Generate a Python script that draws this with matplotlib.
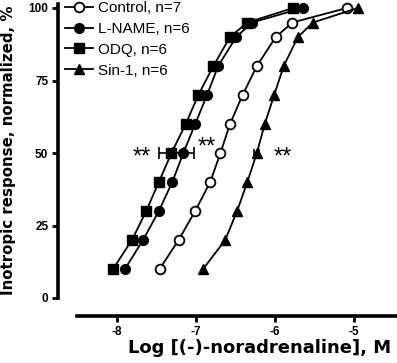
import numpy as np
import matplotlib.pyplot as plt

plt.rcParams["font.family"] = ["Liberation Sans", "DejaVu Sans"]

# response levels (% of max) at which log EC values were read
levels = [10, 20, 30, 40, 50, 60, 70, 80, 90, 95, 100]

control = [-7.46, -7.22, -7.01, -6.82, -6.69, -6.57, -6.41, -6.23, -5.99, -5.78, -5.09]
lname = [-7.90, -7.67, -7.47, -7.30, -7.16, -7.01, -6.86, -6.72, -6.49, -6.29, -5.65]
odq = [-8.05, -7.81, -7.63, -7.47, -7.31, -7.13, -6.97, -6.78, -6.57, -6.35, -5.77]
sin1 = [-6.91, -6.63, -6.48, -6.35, -6.23, -6.13, -6.01, -5.89, -5.71, -5.52, -4.95]

# SEM of the EC50 (log units)
sem50 = {"lname": 0.13, "odq": 0.16, "sin1": 0.03}

# significance marks: (x, y)
stars = [(-7.68, 48.5), (-6.86, 52), (-5.90, 48.5)]

fig = plt.figure(figsize=(3.97, 3.63), dpi=100)
ax = fig.add_axes([77 / 397, 1 - 298 / 363, 320 / 397, 290 / 363])

kw = dict(color="black", lw=1.3, markersize=7, clip_on=False, zorder=3)
ax.plot(control, levels, marker="o", mfc="white", mec="black", mew=1.3,
        label="Control, n=7", **kw)
ax.plot(lname, levels, marker="o", mfc="black", label="L-NAME, n=6", **kw)
ax.plot(odq, levels, marker="s", mfc="black", markersize=6.5, color="black",
        lw=1.3, clip_on=False, zorder=3, label="ODQ, n=6")
ax.plot(sin1, levels, marker="^", mfc="black", markersize=7.5, color="black",
        lw=1.3, clip_on=False, zorder=3, label="Sin-1, n=6")

i50 = levels.index(50)
ax.errorbar(odq[i50], 50, xerr=sem50["odq"], fmt="none", ecolor="black",
            elinewidth=1.2, capsize=4, capthick=1.2, zorder=2)
ax.errorbar(lname[i50], 50, xerr=sem50["lname"], fmt="none", ecolor="black",
            elinewidth=1.2, capsize=4, capthick=1.2, zorder=2)
ax.errorbar(sin1[i50], 50, xerr=sem50["sin1"], fmt="none", ecolor="black",
            elinewidth=1.2, capsize=3, capthick=1.2, zorder=2)

for x, y in stars:
    ax.text(x, y, "**", ha="center", va="center", fontsize=17)

ax.set_xlim(-8.506, -4.456)
ax.set_ylim(0, 100)
ax.set_xticks([-8, -7, -6, -5])
ax.set_xticklabels(["-8", "-7", "-6", "-5"])
ax.set_yticks([0, 25, 50, 75, 100])

for s in ["top", "right"]:
    ax.spines[s].set_visible(False)
ax.spines["left"].set_position(("outward", 13.7))
ax.spines["bottom"].set_position(("outward", 13))
ax.spines["left"].set_linewidth(2.6)
ax.spines["bottom"].set_linewidth(2.6)
ax.spines["left"].set_bounds(0, 101.5)
ax.tick_params(width=2, length=4, labelsize=8.5, pad=3)
for lab in ax.get_xticklabels() + ax.get_yticklabels():
    lab.set_fontweight("bold")

fig.text(260 / 397, 1 - 348 / 363, "Log [(-)-noradrenaline], M",
         ha="center", va="center", fontsize=13, fontweight="bold",
         family="DejaVu Sans")
fig.text(9 / 397, 1 - 150 / 363, "Inotropic response, normalized, %",
         ha="center", va="center", rotation=90, fontsize=10.8,
         fontweight="bold", family="DejaVu Sans")

ax.legend(loc="upper left", bbox_to_anchor=(-0.056, 1.045), frameon=False,
          fontsize=11, handlelength=1.8, handletextpad=0.35, labelspacing=0.45,
          borderaxespad=0)

fig.savefig("out.png", dpi=100)
